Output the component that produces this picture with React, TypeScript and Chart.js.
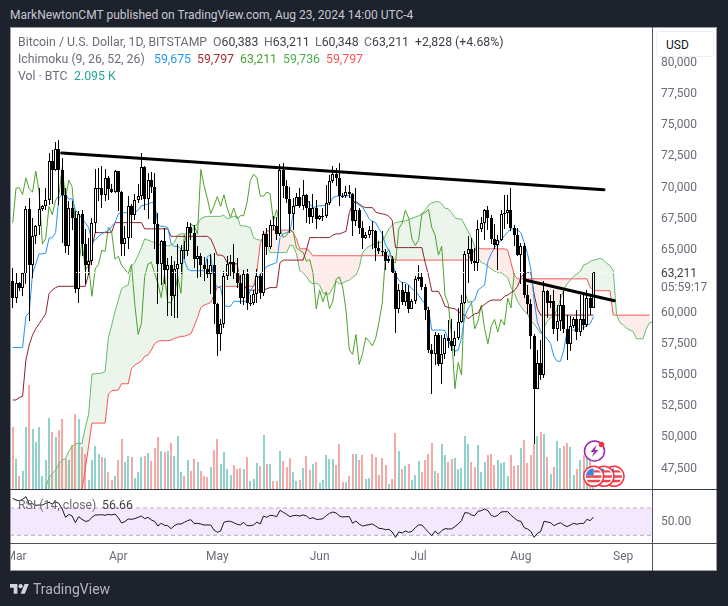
import React, { useEffect, useRef } from "react";
import { Chart, registerables } from "chart.js";
Chart.register(...registerables);

const FONT = "Roboto, sans-serif";
const firstDay = -1; // Feb 29 2024; day 0 = Mar 1
const spanFirstDay = 8;
const monthStarts = [0, 31, 61, 92, 122, 153, 184];
const monthNames = ["Mar", "Apr", "May", "Jun", "Jul", "Aug", "Sep"];
const priceTicks = [47500, 50000, 52500, 55000, 57500, 60000, 65000, 67500, 70000, 72500, 75000, 77500, 80000];

const opens = [62500,61150,62400,61990,63130,68300,63800,66100,66900,68300,68500,69000,72100,71450,73100,71400,69450,65300,68400,67600,61900,67900,65500,63800,64100,67200,69950,69990,69450,70780,69900,69650,71330,69650,65480,65950,68500,67840,69000,69360,71630,69130,70600,70060,67100,63900,65700,63400,63800,61300,63500,63850,64990,64900,66840,66400,64280,64500,63770,63460,63110,63840,60650,58250,59120,62890,63890,64030,63160,62330,61190,63050,60790,60800,61450,62900,61550,66250,65230,67050,66940,66280,71450,70140,69120,67920,68550,69280,68500,69430,68360,67620,68360,67500,67750,67760,68800,70560,71080,70790,69350,69300,69650,69500,67320,68240,66750,66000,66190,66640,66490,65150,64960,64830,64100,64250,63180,60280,61800,60860,61670,60300,60900,62670,62850,62040,60200,57000,56650,58240,55850,56700,58000,57700,57330,57950,59250,60800,64700,65050,64100,63980,66700,67150,68200,67550,65900,65370,65800,67900,68000,68250,66800,66200,64600,65300,61400,60700,58100,53900,56000,55000,61700,60800,60900,58700,59300,60600,58700,57500,58900,59450,58450,59450,59000,61150,60383];
const highs = [63600,63200,62450,63200,68500,69200,67600,67000,70000,68650,70000,72800,73000,73650,73780,72400,70000,68900,68900,68100,68100,68200,66650,65950,67600,71500,71550,71700,71500,70950,70300,71400,71330,69700,66900,69300,68700,69500,70300,72800,71700,71200,71250,71200,67950,65800,66800,64350,64500,64100,65500,65400,65700,67250,67200,67050,65300,64800,64450,64300,64650,64750,60800,59500,63300,64500,64600,65500,64400,63000,63400,63450,61400,61800,63450,63100,66500,66800,67450,67700,67650,71900,71950,70650,70050,69200,69550,70000,70600,69500,68900,69500,69000,67850,68400,70250,71000,71750,71600,71950,69550,70150,70200,69550,70000,68400,67300,66450,66950,67300,66600,65700,66500,65050,64550,64500,63350,62300,62450,62300,62200,61100,62900,63800,63250,62300,60450,57500,58450,58350,58200,58300,59400,59500,58500,60350,61400,64900,66100,66000,65150,67450,67650,68300,68500,67800,67100,66200,68200,69400,69400,70000,67000,66800,65600,65600,62200,61100,58300,57000,57800,62500,61800,61400,61800,60600,61500,61700,59800,59700,59650,60200,61400,61400,61800,61400,63211];
const lows = [60400,60800,61700,61300,62300,59300,62800,65500,66200,68100,68200,68650,68700,71350,68600,65600,64800,64600,66600,61600,60800,64500,62300,63000,63800,66400,68900,68400,68900,69000,69600,69600,68100,64500,64500,65100,66000,67450,68800,69000,68200,67500,69550,65100,60700,62200,62300,59700,59700,59600,59600,63100,64300,64500,65800,63600,62800,62850,62500,62800,61500,59100,56500,56900,58800,62600,62900,62700,62000,60700,60600,60200,60500,60600,60800,61100,61300,64600,65100,66600,65800,66100,69150,68800,66400,66600,68500,68400,68250,67200,67100,67150,66650,67400,67300,67600,68600,70400,70100,68500,69200,69150,69200,66100,66900,66300,65100,65900,66000,65100,64100,64700,64550,63400,63950,63200,58400,60000,60600,60550,59950,60300,60650,62550,61800,59400,56800,53500,55800,55750,54300,56300,57150,56950,56550,57800,59200,60700,62400,63850,63300,63300,66450,65800,66600,65450,65100,63400,65750,66700,67100,66500,65300,64500,62300,61200,59900,57100,49500,53900,54600,54800,59600,60400,58300,57700,58500,58400,56200,56950,58800,57800,58100,58600,58850,59800,60348];
const closes = [61150,62400,61990,63130,68300,63800,66100,66900,68300,68500,69000,72100,71450,73100,71400,69450,65300,68400,67600,61900,67900,65500,63800,64100,67200,69950,69990,69450,70780,69900,69650,71330,69650,65480,65950,68500,67840,69000,69360,71630,69130,70600,70060,67100,63900,65700,63400,63800,61300,63500,63850,64990,64900,66840,66400,64280,64500,63770,63460,63110,63840,60650,58250,59120,62890,63890,64030,63160,62330,61190,63050,60790,60800,61450,62900,61550,66250,65230,67050,66940,66280,71450,70140,69120,67920,68550,69280,68500,69430,68360,67620,68360,67500,67750,67760,68800,70560,71080,70790,69350,69300,69650,69500,67320,68240,66750,66000,66190,66640,66490,65150,64960,64830,64100,64250,63180,60280,61800,60860,61670,60300,60900,62670,62850,62040,60200,57000,56650,58240,55850,56700,58000,57700,57330,57950,59250,60800,64700,65050,64100,63980,66700,67150,68200,67550,65900,65370,65800,67900,68000,68250,66800,66200,64600,65300,61400,60700,58100,53900,56000,55000,61700,60800,60900,58700,59300,60600,58700,57500,58900,59450,58450,59450,59000,61150,60380,63211];
const volumes = [5610,2700,1200,1620,5610,9360,5400,4230,5580,1170,2610,6390,5130,4680,5310,6300,2700,2610,3960,6750,6300,3780,3150,810,2610,3870,3150,2880,2790,1530,810,1170,2610,4500,2430,2970,2880,990,1530,2880,2970,3240,2520,3690,4680,3420,3330,3420,4140,2970,4770,1530,1170,2610,1620,2700,2430,1620,1170,1080,1980,3510,4500,2250,3330,1800,1260,2160,1800,1890,1800,2880,720,900,2340,2070,4860,2250,2250,720,720,3420,2520,1980,2790,1530,720,810,1890,2970,1710,2250,2430,540,810,3060,2700,2700,2160,4050,630,630,1170,3150,3150,2610,3060,900,990,3150,2880,1260,2790,2160,450,900,5040,3420,1800,2070,2250,810,1260,2520,1530,2610,3150,4140,1620,1440,4050,3060,2430,2700,2790,1800,1890,4770,4050,2430,1980,3960,1530,2430,3060,3150,2160,2610,2340,2430,1170,3060,2070,2160,3690,4410,2340,3060,4050,4770,5130,4950,2880,1350,1980,4320,3690,3870,4140,3780,1260,1800,2610,3060,3510,2610,2095];
const conversionLine = [57200,57200,57200,57200,59700,60000,63100,63900,64700,64700,64750,65950,66000,66400,69200,69400,69400,69100,69100,68200,67900,67500,67200,66800,65750,65800,66100,66300,66450,66550,66900,67200,67900,68000,68000,68000,68000,68000,68200,68550,68600,68700,68800,68800,67000,66900,66900,66800,65500,65300,65300,65100,64200,63500,63350,63350,63350,63350,63350,64500,64600,62500,62000,62000,60600,60500,60500,60900,60900,60900,60900,60900,61800,62100,62600,63100,63300,63700,63800,63900,64000,66000,66300,66400,66500,67900,69000,69100,69100,69100,68700,68400,68500,68550,68550,68600,68700,69200,69300,69350,69350,69350,69350,69000,68800,68600,68450,68000,67500,67300,67200,66700,66300,65400,65000,64300,63000,62600,62400,62400,62200,61900,61700,61400,61000,60700,60300,58600,58600,58600,58600,58550,57800,57200,56900,57000,58000,59700,60300,60800,61000,61800,62000,62200,64100,64700,65200,65500,65800,66150,66450,66700,66700,66600,66400,65600,64700,63500,61000,59200,58500,58100,57900,57500,56500,56100,56100,57000,58500,58600,58600,58650,58700,58800,58950,59100,59675];
const baseLine = [53000,53000,53200,53300,56200,57400,58200,58700,59100,59500,59900,61500,61800,62000,62100,62100,62100,62100,62100,62100,62100,62100,62100,63100,65200,66400,66400,66400,66400,66400,66450,67200,67200,67200,67200,67200,67200,67200,67200,67200,66700,66700,66700,66700,66700,66700,66700,66700,66100,66100,66100,66100,66100,66100,66100,66100,66100,66100,66100,66100,65900,65300,64600,64600,64500,64000,63900,63900,63900,62300,62200,61800,61800,61800,61800,61800,61800,61900,62000,62000,62000,64000,64200,64200,64200,64200,64200,64200,64200,65000,66000,66000,66000,66000,66000,66000,66000,66200,66300,66300,66400,66500,68000,68700,68900,68700,68500,68400,68400,68400,68050,67950,67900,67850,67700,67400,65200,65200,65200,65200,65200,65200,65200,65200,65200,64000,63000,61700,61700,61700,61200,60500,60400,60350,60300,60100,59900,59800,59500,59700,59900,59950,60450,60650,60850,61000,61000,61000,61000,61300,61400,61600,61750,62100,62800,63100,63200,63200,61500,60300,59800,59797,59797,59797,59797,59797,59797,59797,59797,59797,59797,59797,59797,59797,59797,59797,59797];
const laggingSpan = [67200,69950,69990,69450,70780,69900,69650,71330,69650,65480,65950,68500,67840,69000,69360,71630,69130,70600,70060,67100,63900,65700,63400,63800,61300,63500,63850,64990,64900,66840,66400,64280,64500,63770,63460,63110,63840,60650,58250,59120,62890,63890,64030,63160,62330,61190,63050,60790,60800,61450,62900,61550,66250,65230,67050,66940,66280,71450,70140,69120,67920,68550,69280,68500,69430,68360,67620,68360,67500,67750,67760,68800,70560,71080,70790,69350,69300,69650,69500,67320,68240,66750,66000,66190,66640,66490,65150,64960,64830,64100,64250,63180,60280,61800,60860,61670,60300,60900,62670,62850,62040,60200,57000,56650,58240,55850,56700,58000,57700,57330,57950,59250,60800,64700,65050,64100,63980,66700,67150,68200,67550,65900,65370,65800,67900,68000,68250,66800,66200,64600,65300,61400,60700,58100,53900,56000,55000,61700,60800,60900,58700,59300,60600,58700,57500,58900,59450,58450,59450,59000,61150,60380,63211];
const leadingA = [44500,46000,46800,47100,47400,47900,48200,48300,48900,49300,49500,49520,49520,50800,51850,55070,55100,55120,55150,55280,58000,59000,60100,61000,61900,62100,62200,63700,64000,64600,65200,65900,65800,65700,65600,65500,65400,65400,65350,65400,65600,66200,66300,66300,66350,66350,66900,67100,67500,67650,67700,67700,67700,67700,67700,67800,67500,67600,67700,67700,66950,66950,66900,66800,66000,65850,65800,65750,65500,64800,64800,64800,64800,64800,64800,65400,65350,64700,63350,63150,62900,62450,62300,62350,62200,61600,61450,61500,62000,62500,62300,62350,62500,62600,62800,63000,63600,64800,65100,65300,65450,65550,65600,65650,66200,66700,67000,67200,67250,67300,67350,67450,67550,67650,67750,67900,68200,68600,68800,68850,68900,68700,68350,68300,68000,67600,67500,67500,67000,66500,66000,65300,64400,64000,63900,63700,63500,63300,63200,63200,63000,62800,62000,61600,60900,60500,60100,59900,59300,59100,58700,58300,58800,59300,59600,59700,60300,61100,61800,62300,62600,62900,63100,63300,63800,63900,64100,64200,64250,64350,64200,63950,63750,63350,59800,59200,59000,58750,58600,58500,57900,57900,57900,58700,59200,59200];
const leadingB = [42000,42000,42000,42000,42800,42900,43000,43200,43500,44500,44800,45200,45800,47500,49300,51150,51150,51150,51150,51150,53470,53740,53780,53800,54300,54300,54300,55500,55800,55950,56100,56500,56600,57000,57500,57700,57750,57750,57750,57800,57950,58000,58100,58100,58200,58300,58900,59600,60400,60600,60700,60800,61400,62000,62100,62100,62100,62100,62100,62100,62100,62100,62100,62100,62100,63300,65500,66200,66500,66600,66600,66600,66600,66600,66600,66600,66400,65900,65100,65100,65100,64900,64550,64550,64550,64550,64550,64550,64550,64550,64550,64550,64550,64550,64550,64550,64550,64550,64550,64550,64550,64550,64550,64550,64550,64550,64500,64200,64200,64200,64200,64200,64200,64200,64200,64200,64200,64200,64200,64200,64200,64200,64200,64200,64200,64200,64200,64200,64200,64200,64700,65000,65200,65100,65100,65100,65100,65100,65100,65100,65100,65000,64000,63000,62700,62700,62700,62700,62700,62700,62700,62700,62700,62700,62700,62700,62700,62700,62700,62700,62700,62700,62700,62700,62700,62700,62000,61850,61750,61750,61750,61750,61750,59800,59797,59797,59797,59797,59797,59797,59797,59797,59797,59797,59797];
const rsiValues = [84.2,81.7,80.7,82.7,86.6,75.9,76.3,73.9,74.4,74.4,76.8,78.3,75.9,78.8,76.8,68.5,56.3,60.7,58.3,48.5,57.3,53.4,50.5,51,56.3,59.8,59.8,60.2,59.3,60.7,59.8,61.2,55.8,48,50,53.9,53.4,54.4,56.3,58.3,54.4,56.3,52.4,50.5,43.6,47.6,44.6,44.1,39.7,44.1,46.6,46.6,49,51.5,52.9,47.1,47.6,46.6,45.1,45.1,45.1,37.8,34.4,36.3,49,50.5,50.5,48.5,46.1,45.1,49,44.1,44.1,45.1,49.5,46.6,58.3,56.3,59.3,58.8,57.3,66.6,63.7,60.7,57.3,58.8,59.3,58.3,59.8,58.3,54.4,55.8,53.4,53.4,54.4,58.8,62.2,64.1,62.7,58.3,56.8,57.3,57.3,47.6,51,46.6,43.6,44.6,45.6,46.6,43.6,40.2,39.7,38.3,38.8,34.9,27,34.9,33.4,36.3,34.4,35.8,41.2,45.1,45.1,39.7,34.4,29.5,36.3,31.9,36.8,39.7,39.3,39.3,42.7,46.6,51.5,63.2,62.7,59.8,58.8,65.1,66.1,68.5,66.1,59.3,57.3,59.3,64.1,64.6,64.6,59.3,55.4,51.5,50.5,41.2,39.3,35.8,27,32.9,35.4,50.5,49.5,48.5,44.1,46.6,48.5,45.1,42.7,45.1,47.6,46.1,47.6,47.1,53.4,51.5,56.66];
const trendDaysA = [13.85, 178.2];
const trendPricesA = [72770, 69832];
const trendDaysB = [154.2, 181.3];
const trendPricesB = [62600, 60946];
const lastPrice = 63211;

const X_MIN = -1.82;
const X_MAX = 192.73;
const pts = (start: number, arr: number[]) => arr.map((y, k) => ({ x: start + k, y }));

const noPadding = (s: any) => {
  s.paddingTop = 0;
  s.paddingBottom = 0;
  s.paddingLeft = 0;
  s.paddingRight = 0;
};

const snapBars = {
  id: "snapBars",
  afterDatasetsUpdate(chart: any) {
    chart.getSortedVisibleDatasetMetas().forEach((meta: any) => {
      if (meta.type !== "bar") return;
      const w = meta.controller.getDataset().barThickness;
      meta.data.forEach((el: any) => {
        el.x = w % 2 === 1 ? Math.floor(el.x) + 0.5 : Math.round(el.x);
        el.y = Math.round(el.y);
        el.base = Math.round(el.base);
        if (el.y === el.base) el.base = el.y + 1;
      });
    });
  },
};

function T({ x, y, c, children, s = 12.3 }: any) {
  return (
    <span style={{ position: "absolute", left: x, top: y - 10, height: 20, lineHeight: "20px", color: c, fontSize: s, fontFamily: FONT, whiteSpace: "nowrap" }}>
      {children}
    </span>
  );
}
function Box({ x, y, w, h, c }: any) {
  return <div style={{ position: "absolute", left: x, top: y, width: w, height: h, background: c }} />;
}

const GRAY = "#6a6d78";
const DARK = "#3c3f48";

export default function App() {
  const mainRef = useRef<HTMLCanvasElement>(null);
  const rsiRef = useRef<HTMLCanvasElement>(null);

  useEffect(() => {
    const days = closes.map((_, k) => firstDay + k);
    const lineStyle = { type: "line" as const, pointRadius: 0, borderWidth: 1, tension: 0, fill: false, yAxisID: "y" };
    const main = new Chart(mainRef.current!, {
      type: "bar",
      plugins: [snapBars],
      data: {
        datasets: [
          { ...lineStyle, label: "Trend A", data: trendDaysA.map((x, k) => ({ x, y: trendPricesA[k] })), borderColor: "#000", borderWidth: 3, order: 0, borderCapStyle: "round" },
          { ...lineStyle, label: "Trend B", data: trendDaysB.map((x, k) => ({ x, y: trendPricesB[k] })), borderColor: "#000", borderWidth: 3, order: 0, borderCapStyle: "round" },
          { ...lineStyle, label: "Last", data: [{ x: X_MIN, y: lastPrice }, { x: X_MAX, y: lastPrice }], borderColor: "#fff", borderDash: [1, 2], order: 1 },
          { label: "Body", data: days.map((x, k) => ({ x, y: [opens[k], closes[k]] })), barThickness: 3, grouped: false, inflateAmount: 0, borderWidth: 1, borderSkipped: false, borderColor: "#000",
            backgroundColor: days.map((_, k) => (closes[k] >= opens[k] ? "#fff" : "#000")), order: 2, yAxisID: "y" },
          { label: "Wick", data: days.map((x, k) => ({ x, y: [lows[k], highs[k]] })), barThickness: 1, grouped: false, inflateAmount: 0, borderWidth: 0, backgroundColor: "#000", order: 3, yAxisID: "y" },
          { ...lineStyle, label: "Conversion", data: pts(firstDay, conversionLine), borderColor: "#2196F3", order: 4 },
          { ...lineStyle, label: "Base", data: pts(firstDay, baseLine), borderColor: "#8A2229", order: 4 },
          { ...lineStyle, label: "Lagging", data: pts(firstDay, laggingSpan), borderColor: "#4CA22A", order: 4 },
          { ...lineStyle, label: "Lead A", data: pts(spanFirstDay, leadingA), borderColor: "#66BB6A", order: 5,
            fill: { target: 9, above: "rgba(67,160,71,0.1)", below: "rgba(244,67,54,0.1)" } },
          { ...lineStyle, label: "Lead B", data: pts(spanFirstDay, leadingB), borderColor: "#FF5252", order: 5 },
          { label: "Volume", data: days.map((x, k) => ({ x, y: volumes[k] })), barThickness: 2, grouped: false, inflateAmount: 0, borderWidth: 0,
            backgroundColor: days.map((_, k) => (closes[k] >= opens[k] ? "#92D2CC" : "#F7A9A7")), order: 6, yAxisID: "yVol" },
        ] as any,
      },
      options: {
        animation: false,
        responsive: false,
        layout: { padding: 0, autoPadding: false },
        plugins: { legend: { display: false }, tooltip: { enabled: false }, title: { display: false } },
        scales: {
          x: { type: "linear", min: X_MIN, max: X_MAX, offset: false, display: false, grid: { display: false } },
          yVol: { type: "linear", min: 0, max: 41580, display: false, grid: { display: false } },
          y: {
            type: "linear", position: "right", min: 45874, max: 82862, grid: { display: false, drawTicks: false }, border: { display: false },
            afterFit: (s: any) => { s.width = 65; noPadding(s); },
            afterBuildTicks: (s: any) => { s.ticks = priceTicks.map((value) => ({ value })); },
            ticks: { autoSkip: false, padding: 9, color: GRAY, font: { family: FONT, size: 12 }, callback: (v: any) => Number(v).toLocaleString("en-US") },
          },
        },
      } as any,
    });

    const rsi = new Chart(rsiRef.current!, {
      type: "line",
      data: {
        datasets: [
          { label: "70", data: [{ x: X_MIN, y: 70 }, { x: X_MAX, y: 70 }], borderColor: "#b2b5be", borderDash: [4, 3], borderWidth: 1, pointRadius: 0, order: 2, fill: { target: 1, above: "rgba(135,25,235,0.1)", below: "rgba(135,25,235,0.1)" } },
          { label: "30", data: [{ x: X_MIN, y: 30 }, { x: X_MAX, y: 30 }], borderColor: "#b2b5be", borderDash: [4, 3], borderWidth: 1, pointRadius: 0, order: 2, fill: false },
          { label: "RSI", data: pts(firstDay, rsiValues), borderColor: "#131722", borderWidth: 1, pointRadius: 0, tension: 0, order: 1, fill: false },
        ] as any,
      },
      options: {
        animation: false,
        responsive: false,
        layout: { padding: 0, autoPadding: false },
        plugins: { legend: { display: false }, tooltip: { enabled: false }, title: { display: false } },
        scales: {
          x: {
            type: "linear", min: X_MIN, max: X_MAX, grid: { display: false, drawTicks: false }, border: { display: false },
            afterFit: (s: any) => { s.height = 27; noPadding(s); },
            afterBuildTicks: (s: any) => { s.ticks = monthStarts.map((value) => ({ value })); },
            ticks: { autoSkip: false, maxRotation: 0, padding: 7, color: GRAY, font: { family: FONT, size: 12 }, callback: (v: any) => monthNames[monthStarts.indexOf(v)] },
          },
          y: {
            type: "linear", position: "right", min: 18.7, max: 96.4, grid: { display: false, drawTicks: false }, border: { display: false },
            afterFit: (s: any) => { s.width = 65; noPadding(s); },
            afterBuildTicks: (s: any) => { s.ticks = [{ value: 50 }]; },
            ticks: { autoSkip: false, padding: 9, color: GRAY, font: { family: FONT, size: 12 }, callback: (v: any) => Number(v).toFixed(2) },
          },
        },
      } as any,
    });
    return () => { main.destroy(); rsi.destroy(); };
  }, []);

  return (
    <div style={{ position: "fixed", left: 0, top: 0, width: 728, height: 606, background: "#1e222d", overflow: "hidden" }}>
      <T x={10} y={15} s={12} c="#c5c8d0">MarkNewtonCMT published on TradingView.com, Aug 23, 2024 14:00 UTC-4</T>
      <Box x={10} y={27} w={707} h={544} c="#fff" />
      <canvas ref={mainRef} width={707} height={462} style={{ position: "absolute", left: 10, top: 27 }} />
      <canvas ref={rsiRef} width={707} height={80} style={{ position: "absolute", left: 10, top: 490 }} />

      {/* frame */}
      <Box x={10} y={27} w={707} h={1} c="#9a9da6" />
      <Box x={10} y={27} w={1} h={544} c="#9a9da6" />
      <Box x={716} y={27} w={1} h={544} c="#9a9da6" />
      <Box x={10} y={570} w={707} h={1} c="#9a9da6" />
      <Box x={10} y={489} w={707} h={1} c="#363a45" />
      <Box x={10} y={543} w={707} h={1} c="#50535e" />
      <Box x={652} y={27} w={1} h={544} c="#50535e" />

      {/* USD box */}
      <div style={{ position: "absolute", left: 656, top: 31, width: 58, height: 26, boxSizing: "border-box", background: "#fff", border: "1px solid #eceef2", borderRadius: 4, color: "#131722", fontFamily: FONT, fontSize: 12, lineHeight: "26px", paddingLeft: 9 }}>USD</div>

      {/* legends */}
      <T x={18} y={42} c={GRAY}>Bitcoin / U.S. Dollar, 1D, BITSTAMP</T>
      <T x={213} y={42} c={GRAY}>O<span style={{ color: DARK }}>60,383</span></T>
      <T x={264} y={42} c={GRAY}>H<span style={{ color: DARK }}>63,211</span></T>
      <T x={315} y={42} c={GRAY}>L<span style={{ color: DARK }}>60,348</span></T>
      <T x={364} y={42} c={GRAY}>C<span style={{ color: DARK }}>63,211</span></T>
      <T x={415} y={42} c={DARK}>+2,828 (+4.68%)</T>
      <T x={18} y={59} c={GRAY}>Ichimoku (9, 26, 52, 26)</T>
      <T x={154} y={59} c="#2196F3">59,675</T>
      <T x={197} y={59} c="#A8282F">59,797</T>
      <T x={240} y={59} c="#4CA22A">63,211</T>
      <T x={283} y={59} c="#4CAF50">59,736</T>
      <T x={326} y={59} c="#FF5252">59,797</T>
      <T x={18} y={76} c={GRAY}>Vol · BTC</T>
      <T x={74} y={76} c="#26A69A">2.095 K</T>
      <T x={18} y={505} c={GRAY}>RSI (14, close)</T>
      <T x={102} y={505} c={DARK}>56.66</T>

      {/* last price */}
      <T x={661} y={273} s={12} c={DARK}>63,211</T>
      <T x={661} y={287} s={12} c={GRAY}>05:59:17</T>

      {/* event icons and logo */}
      <svg width={728} height={606} style={{ position: "absolute", left: 0, top: 0, pointerEvents: "none" }}>
        <defs>
          <clipPath id="flagClip"><circle cx={0} cy={0} r={8} /></clipPath>
        </defs>
        <circle cx={594.5} cy={451} r={10} fill="#fff" stroke="#9C27B0" strokeWidth={1.5} />
        <path d="M596.5 445 L590.5 452 L594 452 L592 457 L598.5 450 L595 450 Z" fill="#9C27B0" />
        <circle cx={601.5} cy={444.5} r={2.8} fill="#F23645" />
        {[614, 604, 593.7].map((cx) => (
          <g key={cx} transform={`translate(${cx} 476.3)`}>
            <circle r={10} fill="#fff" stroke="#F23645" strokeWidth={1.5} />
            <g clipPath="url(#flagClip)">
              <rect x={-8} y={-8} width={16} height={16} fill="#fff" />
              <rect x={-8} y={-1} width={16} height={2.5} fill="#F0474F" />
              <rect x={-8} y={3.5} width={16} height={2.5} fill="#F0474F" />
              <rect x={0} y={-6} width={8} height={2.2} fill="#F0474F" />
              <rect x={-8} y={-8} width={8} height={7} fill="#3D85E0" />
            </g>
          </g>
        ))}
        <g transform="translate(10 582) scale(0.53)" fill="#d1d4dc">
          <path d="M14 22H7V11H0V4h14v18zM28 22h-8l7.5-18h8L28 22z" />
          <circle cx={20} cy={8} r={4} />
        </g>
      </svg>
      <T x={33} y={589} s={14} c="#b2b5be">TradingView</T>
    </div>
  );
}
